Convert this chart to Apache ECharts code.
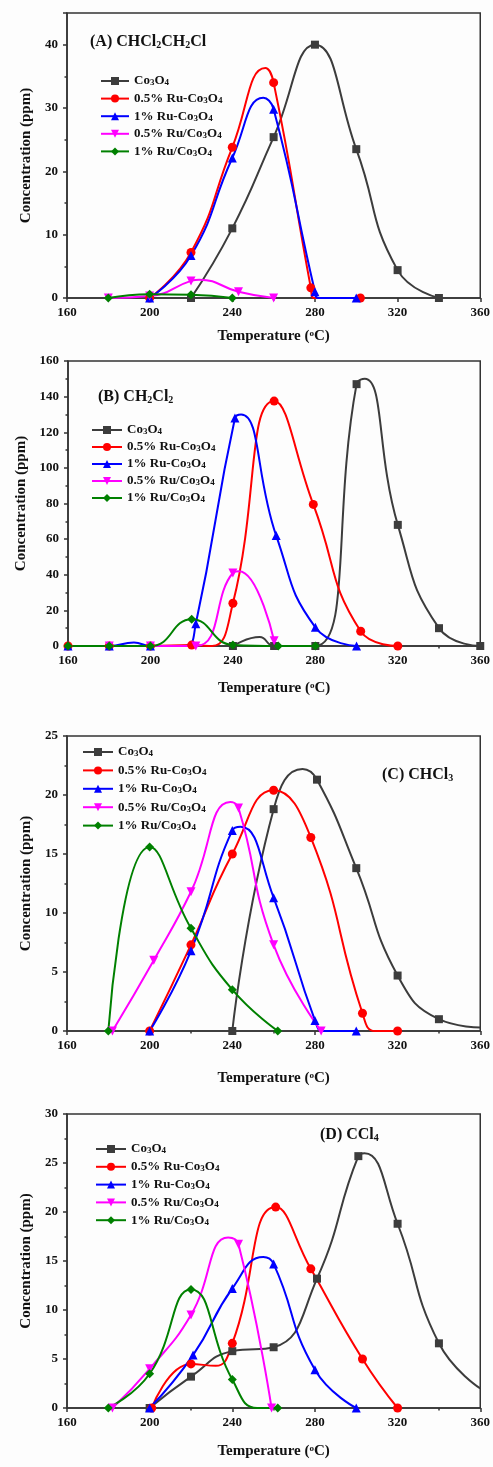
<!DOCTYPE html>
<html><head><meta charset="utf-8">
<script src="https://cdn.jsdelivr.net/npm/echarts@6/dist/echarts.min.js"></script>
<style>html,body{margin:0;padding:0;background:#fdfdfd}#c{width:493px;height:1467px}</style>
</head><body><div id="c"></div>
<script>
// ---------- DATA (Temperature °C, Concentration ppm) ----------
const seriesNames = ['Co3O4', '0.5% Ru-Co3O4', '1% Ru-Co3O4', '0.5% Ru/Co3O4', '1% Ru/Co3O4'];
const panelTitles = ['(A) CHCl{s|2}CH{s|2}Cl', '(B) CH{s|2}Cl{s|2}', '(C) CHCl{s|3}', '(D) CCl{s|4}'];

// Panel A: CHCl2CH2Cl  (marked points)
const A_Co3O4   = [[220,0],[240,11],[260,25.4],[280,40],[300,23.5],[320,4.4],[340,0]];
const A_05RuCo  = [[200,0],[220,7.2],[240,23.8],[260,34],[278,1.6],[302,0]];
const A_1RuCo   = [[200,0],[220,6.7],[240,22.1],[260,29.8],[280,1.0],[300,0]];
const A_05RuCoS = [[180,0],[200,0.3],[220,2.7],[243,1.0],[260,0]];
const A_1RuCoS  = [[180,0],[200,0.6],[220,0.5],[240,0]];
// Panel A: curve points (no marker)
const A_Co3O4_c = [], A_05RuCo_c = [[256,36.3],[279.5,0]], A_1RuCo_c = [[255,31.6],[281.5,0]], A_05RuCoS_c = [[224,2.9]], A_1RuCoS_c = [];

// Panel B: CH2Cl2
const B_Co3O4   = [[240,0],[260,0],[280,0],[300,147],[320,68],[340,10],[360,0]];
const B_05RuCo  = [[160,0],[180,0],[200,0],[220,0.5],[240,24],[260,137.5],[279,79.5],[302,8.3],[320,0]];
const B_1RuCo   = [[160,0],[180,0],[200,0],[222,12.5],[241,128],[261,62],[280,10.5],[300,0]];
const B_05RuCoS = [[180,0],[200,0],[222,0],[240,41],[260,3]];
const B_1RuCoS  = [[160,0],[180,0],[200,0],[220,15],[240,0.6],[262,0],[280,0]];
const B_Co3O4_c = [[253,5],[304,150]], B_05RuCo_c = [[230,0]], B_1RuCo_c = [[192,2],[217,0],[244,130]], B_05RuCoS_c = [[243,42]], B_1RuCoS_c = [];

// Panel C: CHCl3
const C_Co3O4   = [[240,0],[260,18.8],[281,21.3],[300,13.8],[320,4.7],[340,1.0]];
const C_05RuCo  = [[200,0],[220,7.3],[240,15],[260,20.4],[278,16.4],[303,1.5],[320,0]];
const C_1RuCo   = [[200,0],[220,6.8],[240,17],[260,11.3],[280,0.9],[300,0]];
const C_05RuCoS = [[182,0],[202,6],[220,11.8],[243,18.9],[260,7.3],[283,0]];
const C_1RuCoS  = [[180,0],[200,15.6],[220,8.7],[240,3.5],[262,0]];
const C_Co3O4_c = [[274,22.2],[360,0.3]], C_05RuCo_c = [[309,0]], C_1RuCo_c = [[244,17.3],[284,0]], C_05RuCoS_c = [[239,19.4]], C_1RuCoS_c = [];

// Panel D: CCl4
const D_Co3O4   = [[200,0],[220,3.2],[240,5.8],[260,6.2],[281,13.2],[301,25.7],[320,18.8],[340,6.6]];
const D_05RuCo  = [[201,0],[220,4.5],[240,6.6],[261,20.5],[278,14.2],[303,5.0],[320,0]];
const D_1RuCo   = [[200,0],[221,5.4],[240,12.2],[260,14.7],[280,3.9],[300,0]];
const D_05RuCoS = [[182,0],[200,4.0],[220,9.5],[243,16.7],[259,0]];
const D_1RuCoS  = [[180,0],[200,3.5],[220,12.1],[240,2.9],[262,0]];
const D_Co3O4_c = [[304,26],[360,2.0]], D_05RuCo_c = [[232,4.3]], D_1RuCo_c = [[255,15.4]], D_05RuCoS_c = [[238,17.4]], D_1RuCoS_c = [[252,0]];

const yMaxes = [45, 160, 25, 30];
const yIntervals = [10, 20, 5, 5];

const panelSeries = [
  [[A_Co3O4,A_Co3O4_c],[A_05RuCo,A_05RuCo_c],[A_1RuCo,A_1RuCo_c],[A_05RuCoS,A_05RuCoS_c],[A_1RuCoS,A_1RuCoS_c]],
  [[B_Co3O4,B_Co3O4_c],[B_05RuCo,B_05RuCo_c],[B_1RuCo,B_1RuCo_c],[B_05RuCoS,B_05RuCoS_c],[B_1RuCoS,B_1RuCoS_c]],
  [[C_Co3O4,C_Co3O4_c],[C_05RuCo,C_05RuCo_c],[C_1RuCo,C_1RuCo_c],[C_05RuCoS,C_05RuCoS_c],[C_1RuCoS,C_1RuCoS_c]],
  [[D_Co3O4,D_Co3O4_c],[D_05RuCo,D_05RuCo_c],[D_1RuCo,D_1RuCo_c],[D_05RuCoS,D_05RuCoS_c],[D_1RuCoS,D_1RuCoS_c]]
];

// ---------- STYLE / LAYOUT ----------
const FONT = '"Liberation Serif", "Times New Roman", serif';
const TXT = '#111';
const AX = '#333';
const colors = ['#3c3c3c', '#ff0000', '#0000ff', '#ff00ff', '#008000'];
const symbols = ['rect', 'circle', 'triangle', 'path://M0,0L10,0L5,9Z', 'diamond'];
const symbolSizes = [8, 9, 9, 9, 9];

const grids = [
  {left: 67, top: 13, width: 414, height: 285},
  {left: 68, top: 361, width: 414, height: 285},
  {left: 67, top: 736, width: 416, height: 295},
  {left: 67, top: 1114, width: 415, height: 294}
];
const xNameGaps = [31, 35, 40, 36];
const legendPos = [
  {left: 100, top: 74.5, itemGap: 4.6, itemWidth: 28},
  {left: 91, top: 423.5, itemGap: 4, itemWidth: 30},
  {left: 82, top: 745.5, itemGap: 5.4, itemWidth: 30},
  {left: 95, top: 1142.5, itemGap: 4.8, itemWidth: 30}
];
const titlePos = [
  {left: 90, top: 34}, {left: 98, top: 389}, {left: 382, top: 767}, {left: 320, top: 1127}
];

const subRich = {s: {fontSize: 9, fontWeight: 'bold', fontFamily: FONT, color: TXT, verticalAlign: 'bottom', lineHeight: 9}};
const supRich = {p: {fontSize: 9, fontWeight: 'bold', fontFamily: FONT, color: TXT, verticalAlign: 'top', lineHeight: 9}};
const richName = n => n.replace(/([A-Za-z])(\d)/g, '$1{s|$2}');

function buildData(marked, unmarked) {
  const pts = marked.map(p => ({value: p})).concat(unmarked.map(p => ({value: p, symbol: 'none'})));
  pts.sort((a, b) => a.value[0] - b.value[0]);
  return pts;
}

const option = {
  backgroundColor: '#fdfdfd',
  animation: false,
  title: [], legend: [], grid: [], xAxis: [], yAxis: [], series: []
};

for (let i = 0; i < 4; i++) {
  option.grid.push(Object.assign({show: true, borderColor: AX, borderWidth: 1.5, backgroundColor: 'transparent'}, grids[i]));
  option.title.push({
    text: panelTitles[i], left: titlePos[i].left, top: titlePos[i].top, padding: 0,
    textStyle: {fontFamily: FONT, fontWeight: 'bold', fontSize: 16, color: TXT,
      rich: {s: {fontSize: 10, fontWeight: 'bold', fontFamily: FONT, color: TXT, verticalAlign: 'bottom', lineHeight: 10}}}
  });
  option.legend.push({
    orient: 'vertical', left: legendPos[i].left, top: legendPos[i].top, padding: 0,
    itemGap: legendPos[i].itemGap, itemWidth: legendPos[i].itemWidth, itemHeight: 10,
    data: seriesNames, selectedMode: false,
    formatter: n => richName(n),
    textStyle: {fontFamily: FONT, fontWeight: 'bold', fontSize: 13, color: TXT, rich: subRich}
  });
  const tickCommon = {
    axisLine: {show: true, lineStyle: {color: AX, width: 1.5}},
    axisTick: {show: true, inside: false, length: 4, lineStyle: {color: AX, width: 1.5}},
    minorTick: {show: true, splitNumber: 2, length: 2.5, lineStyle: {color: AX, width: 1.5}},
    splitLine: {show: false},
    minorSplitLine: {show: false}
  };
  option.xAxis.push(Object.assign({
    gridIndex: i, type: 'value', min: 160, max: 360, interval: 40,
    name: 'Temperature ({p|o}C)', nameLocation: 'middle', nameGap: xNameGaps[i],
    nameTextStyle: {fontFamily: FONT, fontWeight: 'bold', fontSize: 15, color: TXT, rich: supRich},
    axisLabel: {fontFamily: FONT, fontWeight: 'bold', fontSize: 13, color: TXT, margin: 8}
  }, tickCommon));
  option.yAxis.push(Object.assign({
    gridIndex: i, type: 'value', min: 0, max: yMaxes[i], interval: yIntervals[i],
    name: 'Concentration (ppm)', nameLocation: 'middle', nameGap: 31, nameRotate: 90,
    nameTextStyle: {fontFamily: FONT, fontWeight: 'bold', fontSize: 15, color: TXT},
    axisLabel: {fontFamily: FONT, fontWeight: 'bold', fontSize: 13, color: TXT, margin: 9, showMaxLabel: yMaxes[i] % yIntervals[i] === 0}
  }, tickCommon));
  for (let k = 0; k < 5; k++) {
    const [marked, unmarked] = panelSeries[i][k];
    option.series.push({
      name: seriesNames[k], type: 'line', xAxisIndex: i, yAxisIndex: i,
      data: buildData(marked, unmarked), smooth: true, showAllSymbol: true,
      symbol: symbols[k], symbolSize: symbolSizes[k],
      lineStyle: {color: colors[k], width: 2},
      itemStyle: {color: colors[k]},
      clip: true
    });
  }
}

const chart = echarts.init(document.getElementById('c'), null, {renderer: 'canvas'});
chart.setOption(option);
</script></body></html>
